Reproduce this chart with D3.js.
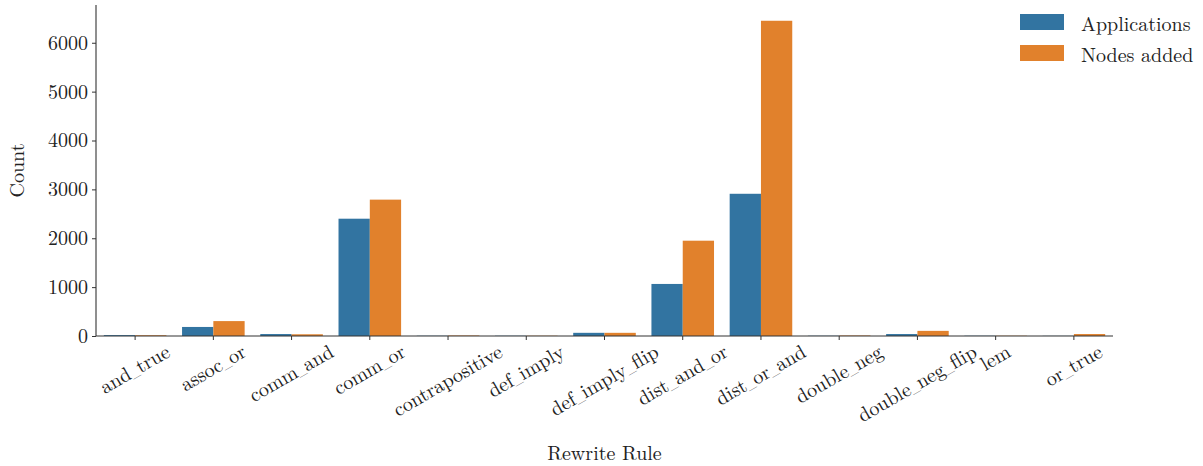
<!DOCTYPE html>
<html><head><meta charset="utf-8">
<script src="https://cdn.jsdelivr.net/npm/d3@7"></script>
<style>
html,body{margin:0;padding:0;background:#fff;}
text{font-family:"Latin Modern Roman","CMU Serif","Liberation Serif",serif;fill:#222;}
</style></head>
<body><svg id="c" width="1203" height="466"></svg>
<script>
const categories = ["and_true","assoc_or","comm_and","comm_or","contrapositive","def_imply","def_imply_flip","dist_and_or","dist_or_and","double_neg","double_neg_flip","lem","or_true"];
const applications = [18, 185, 40, 2400, 5, 5, 65, 1065, 2910, 5, 40, 5, 3];
const nodesAdded   = [15, 305, 35, 2790, 10, 5, 65, 1950, 6450, 10, 105, 5, 40];
const seriesNames = ["Applications","Nodes added"];
const colors = ["#3274a1","#e1812c"];
const yTicks = [0,1000,2000,3000,4000,5000,6000];

const svg = d3.select("#c");
const x0 = 96, x1 = 1113, yBot = 336, yTop = 5;
const fs = 20;

const x = d3.scaleBand().domain(categories).range([x0,x1]).paddingInner(0).paddingOuter(0);
const xs = d3.scaleBand().domain(seriesNames).range([0,x.bandwidth()]).paddingInner(0).paddingOuter(0.25);
const ymax = d3.max(nodesAdded.concat(applications))*1.05;
const y = d3.scaleLinear().domain([0,ymax]).range([yBot,yTop]);

const series = [applications,nodesAdded];
series.forEach((vals,si)=>{
  svg.append("g").selectAll("rect").data(categories).join("rect")
    .attr("x",d=>x(d)+xs(seriesNames[si]))
    .attr("width",xs.bandwidth())
    .attr("y",(d,i)=>y(vals[i]))
    .attr("height",(d,i)=>y(0)-y(vals[i]))
    .attr("fill",colors[si]);
});

// y axis
const ya = svg.append("g").attr("transform",`translate(${x0},0)`)
  .call(d3.axisLeft(y).tickValues(yTicks).tickSize(4).tickPadding(4).tickFormat(d3.format("d")));
ya.select(".domain").attr("stroke","#333").attr("stroke-width",1.1).attr("d",`M0,${yBot}V${yTop}`);
ya.selectAll(".tick line").attr("stroke","#333");
ya.selectAll(".tick text").style("font-size",fs+"px").attr("fill","#222").attr("font-family",null);

// x axis
const xa = svg.append("g").attr("transform",`translate(0,${yBot})`)
  .call(d3.axisBottom(x).tickSize(4).tickFormat(""));
xa.select(".domain").attr("stroke","#333").attr("stroke-width",1.1).attr("d",`M${x0},0H${x1}`);
xa.selectAll(".tick line").attr("stroke","#333");

// rotated labels
const lg = svg.append("g");
categories.forEach(c=>{
  const t = lg.append("text").style("font-size",fs+"px")
    .attr("text-anchor","middle").attr("y", fs*0.3);
  c.split("_").forEach((part,k)=>{
    if(k>0) t.append("tspan").text("_").style("font-size",(fs*0.6)+"px");
    t.append("tspan").text(part);
  });
  const L = t.node().getComputedTextLength();
  const h = fs*0.75;
  const a = Math.PI/6;
  const halfH = (L*Math.sin(a) + h*Math.cos(a))/2;
  const cx = x(c)+x.bandwidth()/2, cy = yBot + 8 + halfH;
  t.attr("transform",`translate(${cx},${cy}) rotate(-30)`);
});

// axis titles
svg.append("text").text("Rewrite Rule").attr("x",(x0+x1)/2).attr("y",460)
  .attr("text-anchor","middle").style("font-size",fs+"px");
svg.append("text").text("Count").attr("transform",`translate(24,${(yBot+yTop)/2}) rotate(-90)`)
  .attr("text-anchor","middle").style("font-size",fs+"px");

// legend
seriesNames.forEach((s,i)=>{
  const yy = 22 + i*31;
  svg.append("rect").attr("x",1020).attr("y",yy-8).attr("width",44).attr("height",16).attr("fill",colors[i]);
  svg.append("text").text(s).attr("x",1081).attr("y",yy).attr("dominant-baseline","central").style("font-size",fs+"px");
});
</script></body></html>
